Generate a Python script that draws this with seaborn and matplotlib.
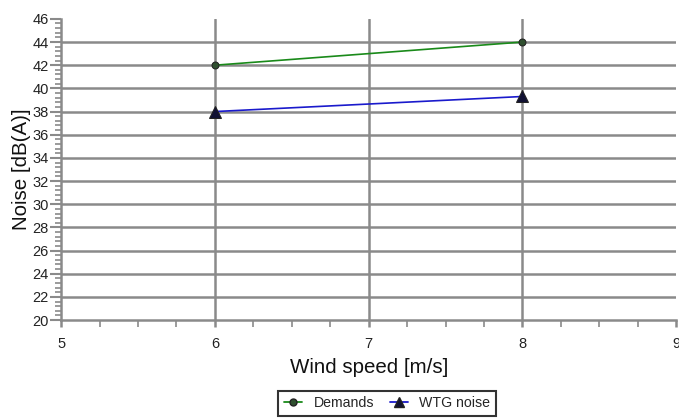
import pandas as pd
import matplotlib.pyplot as plt
import seaborn as sns
from matplotlib.ticker import MultipleLocator

# === DATA ===
wind_speed = [6, 8]
demands = [42.0, 44.0]
wtg_noise = [38.0, 39.3]

df = pd.DataFrame({
    "wind": wind_speed * 2,
    "noise": demands + wtg_noise,
    "series": ["Demands"] * 2 + ["WTG noise"] * 2,
})

sns.set_style("white")
plt.rcParams["font.family"] = ["Liberation Sans", "DejaVu Sans"]

fig = plt.figure(figsize=(6.79, 4.19), dpi=100)
ax = fig.add_axes([0.090, 0.236, 0.906, 0.719])

grid_col = "#8a8a8a"
for y in range(22, 46, 2):
    ax.axhline(y, color=grid_col, lw=1.8, zorder=0)
for x in [6, 7, 8]:
    ax.axvline(x, color=grid_col, lw=1.8, zorder=0)

sns.lineplot(data=df, x="wind", y="noise", hue="series", style="series",
             palette={"Demands": "#1a8a1a", "WTG noise": "#1a1acc"},
             markers={"Demands": "o", "WTG noise": "^"},
             dashes=False, lw=1.2, ax=ax, legend=False, zorder=3)

# marker colours
for line, mc, ms in zip(ax.get_lines()[-2:], ["#2f4f2f", "#111133"], [5, 8]):
    line.set_markerfacecolor(mc)
    line.set_markeredgecolor("#222222")
    line.set_markersize(ms)

ax.set_xlim(5, 9)
ax.set_ylim(20, 46)
ax.xaxis.set_major_locator(MultipleLocator(1))
ax.xaxis.set_minor_locator(MultipleLocator(0.25))
ax.yaxis.set_major_locator(MultipleLocator(2))
ax.yaxis.set_minor_locator(MultipleLocator(0.4))

for side in ["top", "right"]:
    ax.spines[side].set_visible(False)
for side in ["left", "bottom"]:
    ax.spines[side].set_color(grid_col)
    ax.spines[side].set_linewidth(1.8)

ax.tick_params(which="both", bottom=True, left=True, color=grid_col)
ax.tick_params(axis="y", which="major", length=8, width=1.5,
               labelsize=10.5, labelcolor="#222222", pad=1)
ax.tick_params(axis="y", which="minor", length=4, width=1.2)
ax.tick_params(axis="x", which="major", length=5, width=1.8,
               labelsize=10.5, labelcolor="#222222", pad=7)
ax.tick_params(axis="x", which="minor", length=5, width=1.2)

ax.set_xlabel("Wind speed [m/s]", fontsize=14.8, color="#111111", labelpad=5)
ax.set_ylabel("Noise [dB(A)]", fontsize=14.8, color="#111111", labelpad=1)

handles = [
    plt.Line2D([], [], color="#1a8a1a", marker="o", markersize=5,
               markerfacecolor="#2f4f2f", markeredgecolor="#222222", lw=1.3),
    plt.Line2D([], [], color="#1a1acc", marker="^", markersize=7,
               markerfacecolor="#111133", markeredgecolor="#222222", lw=1.3),
]
leg = fig.legend(handles, ["Demands", "WTG noise"], loc="upper center",
                 bbox_to_anchor=(0.570, 0.078), ncol=2, fontsize=10.2,
                 frameon=True, fancybox=False, edgecolor="black",
                 handlelength=1.3, columnspacing=1.1, borderpad=0.4,
                 handletextpad=0.8, borderaxespad=0.3)
leg.get_frame().set_linewidth(1.5)

fig.savefig("out.png", dpi=100)
